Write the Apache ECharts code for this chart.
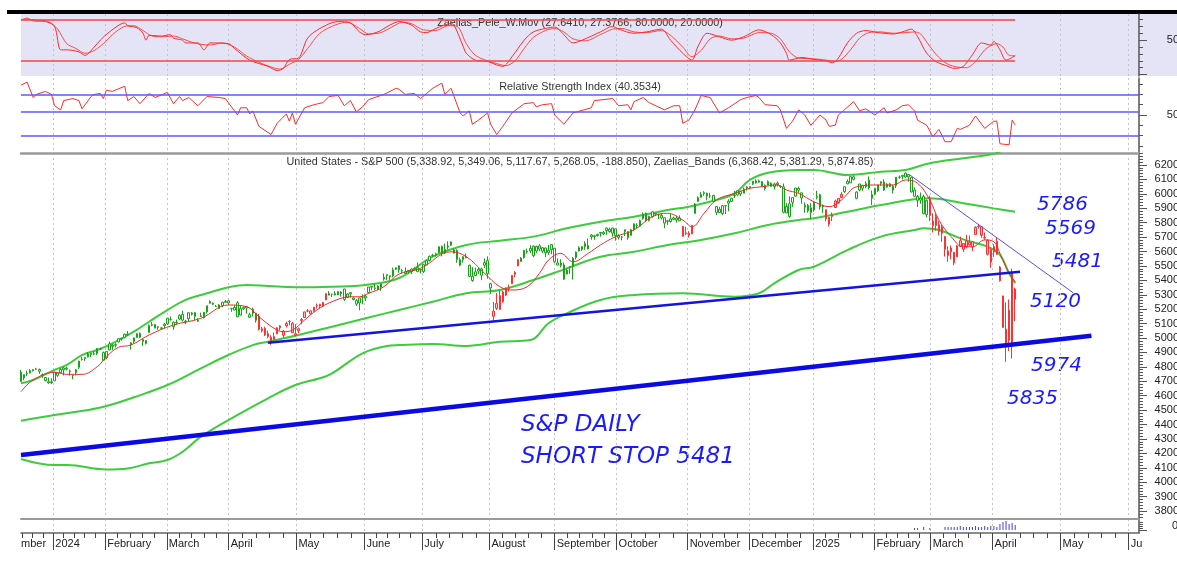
<!DOCTYPE html>
<html>
<head>
<meta charset="utf-8">
<script src="https://cdn.jsdelivr.net/npm/echarts@6/dist/echarts.min.js"></script>
<style>
  html, body { margin: 0; padding: 0; background: #fff; }
  #chart { width: 1177px; height: 567px; }
</style>
</head>
<body>
<div id="chart"></div>
<script>
// S&P 500 daily, x = trading day index (0 = 20 Dec 2023), rows are [open, close, low, high]
const dec23 = [[4764,4698,4698,4779],[4724,4746,4708,4748],[4753,4755,4737,4773],[4758,4775,4755,4784],[4773,4781,4768,4785],[4786,4783,4780,4793],[4782,4770,4751,4788]];
const jan24 = [[4745,4743,4724,4755],[4726,4705,4699,4730],[4697,4689,4683,4726],[4690,4697,4682,4721],[4703,4764,4703,4764],[4741,4757,4730,4765],[4759,4783,4757,4791],[4792,4780,4740,4799],[4791,4784,4775,4802],[4772,4766,4739,4782],[4739,4739,4714,4744],[4760,4780,4740,4785],[4797,4840,4785,4842],[4853,4850,4844,4868],[4856,4865,4842,4866],[4889,4869,4866,4903],[4886,4894,4867,4898],[4888,4891,4881,4907],[4893,4928,4882,4929],[4925,4925,4917,4932],[4899,4846,4845,4906]];
const feb24 = [[4862,4906,4853,4907],[4917,4959,4916,4975],[4950,4942,4918,4958],[4950,4954,4935,4964],[4973,4995,4970,4999],[4995,4998,4982,5001],[5005,5027,4997,5030],[5026,5022,5016,5048],[4967,4953,4920,4971],[4976,5001,4963,5002],[5004,5030,5002,5033],[5032,5006,4999,5039],[4989,4976,4946,4994],[4963,4983,4955,4984],[5038,5087,5038,5094],[5093,5089,5081,5111],[5094,5070,5068,5098],[5074,5078,5057,5081],[5067,5070,5057,5077],[5085,5096,5068,5105]];
const mar24 = [[5098,5137,5091,5140],[5130,5131,5120,5149],[5110,5079,5056,5114],[5109,5105,5092,5128],[5132,5157,5124,5165],[5164,5124,5114,5189],[5112,5117,5097,5125],[5134,5175,5114,5179],[5174,5165,5156,5180],[5176,5150,5124,5179],[5124,5117,5111,5137],[5154,5149,5146,5176],[5140,5179,5137,5180],[5181,5224,5170,5224],[5254,5241,5237,5262],[5242,5234,5228,5246],[5219,5218,5216,5229],[5229,5204,5203,5235],[5226,5248,5213,5249],[5248,5254,5247,5264]];
const apr24 = [[5258,5243,5229,5264],[5204,5205,5182,5209],[5194,5211,5193,5228],[5244,5147,5146,5256],[5159,5204,5157,5222],[5211,5202,5195,5219],[5217,5209,5168,5220],[5144,5161,5138,5175],[5172,5199,5149,5211],[5172,5123,5107,5175],[5149,5061,5052,5168],[5064,5051,5039,5077],[5068,5022,5014,5078],[5031,5011,4999,5052],[5005,4967,4953,5019],[4988,5010,4987,5038],[5029,5071,5027,5076],[5084,5071,5052,5089],[5019,5048,5002,5057],[5084,5100,5073,5114],[5115,5116,5088,5124],[5103,5036,5035,5110]];
const may24 = [[5029,5018,5011,5096],[5050,5064,5033,5073],[5122,5128,5096,5139],[5142,5181,5142,5181],[5188,5187,5179,5200],[5168,5188,5163,5191],[5189,5214,5182,5215],[5225,5223,5204,5239],[5233,5221,5206,5237],[5221,5247,5219,5250],[5264,5308,5263,5311],[5310,5297,5296,5325],[5303,5303,5284,5306],[5298,5308,5297,5325],[5299,5321,5298,5324],[5319,5307,5287,5325],[5340,5268,5257,5341],[5281,5305,5279,5311],[5315,5306,5280,5316],[5278,5267,5262,5283],[5259,5235,5222,5270],[5244,5278,5192,5280]];
const jun24 = [[5283,5283,5234,5302],[5278,5291,5257,5298],[5315,5354,5305,5354],[5357,5353,5331,5362],[5343,5347,5331,5376],[5341,5361,5331,5365],[5353,5375,5327,5376],[5409,5421,5398,5448],[5441,5434,5403,5441],[5424,5432,5404,5432],[5431,5473,5420,5488],[5476,5487,5471,5490],[5500,5473,5452,5505],[5466,5465,5447,5479],[5459,5448,5447,5490],[5460,5469,5446,5472],[5460,5478,5444,5483],[5473,5483,5470,5490],[5488,5460,5460,5524]];
const jul24 = [[5471,5475,5448,5480],[5461,5509,5451,5510],[5507,5537,5507,5539],[5537,5567,5531,5571],[5572,5572,5563,5583],[5584,5577,5564,5591],[5591,5633,5588,5635],[5635,5585,5566,5642],[5590,5615,5583,5655],[5638,5631,5613,5670],[5644,5667,5639,5669],[5610,5589,5586,5622],[5608,5545,5522,5615],[5543,5505,5498,5557],[5544,5564,5523,5566],[5565,5556,5553,5586],[5505,5427,5425,5508],[5428,5399,5390,5492],[5433,5459,5432,5488],[5477,5464,5445,5487],[5479,5436,5401,5489],[5505,5522,5485,5551]];
const aug24 = [[5537,5446,5412,5566],[5376,5347,5306,5383],[5151,5186,5120,5250],[5206,5240,5194,5312],[5294,5199,5195,5330],[5252,5319,5245,5328],[5298,5344,5291,5351],[5351,5344,5322,5371],[5376,5434,5376,5436],[5442,5455,5422,5464],[5500,5543,5498,5546],[5530,5554,5530,5562],[5557,5608,5551,5609],[5602,5597,5585,5620],[5604,5621,5590,5644],[5637,5571,5560,5643],[5603,5635,5590,5641],[5639,5617,5602,5651],[5602,5626,5590,5631],[5624,5592,5561,5627],[5608,5592,5576,5646],[5612,5648,5581,5651]];
const sep24 = [[5623,5529,5521,5623],[5506,5520,5504,5552],[5520,5503,5490,5546],[5507,5408,5403,5523],[5443,5471,5443,5484],[5490,5496,5445,5497],[5496,5554,5406,5561],[5557,5596,5545,5600],[5603,5626,5601,5636],[5615,5633,5604,5637],[5655,5634,5612,5671],[5641,5618,5615,5690],[5702,5714,5682,5721],[5709,5703,5681,5716],[5711,5719,5703,5723],[5727,5732,5703,5735],[5733,5722,5713,5741],[5762,5745,5716,5767],[5755,5738,5731,5765],[5727,5762,5703,5765]];
const oct24 = [[5757,5709,5675,5757],[5698,5709,5683,5720],[5698,5700,5677,5708],[5738,5751,5707,5752],[5738,5696,5681,5739],[5712,5751,5712,5757],[5751,5792,5745,5796],[5778,5780,5762,5796],[5775,5815,5775,5822],[5830,5859,5820,5871],[5866,5815,5805,5870],[5816,5843,5808,5847],[5875,5841,5836,5878],[5859,5865,5846,5866],[5857,5853,5824,5863],[5833,5851,5822,5864],[5834,5797,5762,5834],[5813,5809,5784,5817],[5826,5808,5800,5862],[5833,5823,5819,5842],[5819,5832,5800,5848],[5832,5813,5811,5851],[5775,5705,5703,5775]];
const nov24 = [[5724,5729,5713,5772],[5725,5712,5697,5741],[5722,5782,5722,5783],[5864,5929,5864,5936],[5947,5973,5945,5983],[5976,5996,5973,6012],[6008,6001,5986,6018],[6003,5984,5955,6009],[5985,5985,5970,6008],[5989,5949,5942,5993],[5912,5871,5853,5916],[5870,5893,5866,5909],[5863,5917,5853,5922],[5917,5917,5860,5920],[5935,5949,5879,5963],[5947,5969,5946,5972],[5992,5987,5971,6020],[5992,6021,5987,6025],[6015,5999,5985,6021],[6004,6032,6004,6044]];
const dec24 = [[6040,6047,6022,6053],[6042,6050,6033,6052],[6069,6087,6061,6089],[6089,6075,6071,6100],[6081,6090,6077,6099],[6084,6053,6049,6089],[6058,6035,6024,6065],[6060,6085,6060,6093],[6074,6052,6049,6079],[6068,6051,6030,6078],[6064,6074,6050,6085],[6052,6050,6040,6058],[6048,5872,5865,6071],[5913,5867,5867,5935],[5843,5931,5833,5982],[5941,5974,5910,5978],[5984,6040,5981,6040],[6025,6037,6007,6050],[6007,5971,5932,6007],[5921,5907,5869,5941],[5920,5882,5869,5930]];
const jan25 = [[5903,5869,5824,5935],[5888,5942,5876,5950],[5982,5975,5961,6021],[5994,5909,5890,6000],[5910,5918,5868,5927],[5890,5827,5809,5890],[5789,5837,5773,5837],[5855,5843,5811,5871],[5905,5950,5905,5960],[5968,5937,5932,5965],[5973,5997,5972,6011],[6015,6049,6006,6051],[6069,6086,6067,6100],[6076,6119,6075,6119],[6118,6101,6093,6128],[5969,6012,5962,6018],[6026,6068,6017,6069],[6058,6039,6020,6063],[6050,6071,6038,6087],[6096,6041,6030,6120]];
const feb25 = [[5969,5994,5923,6023],[5998,6038,5990,6042],[6021,6061,6013,6062],[6072,6084,6055,6085],[6083,6026,6020,6101],[6046,6066,6044,6074],[6050,6069,6048,6076],[6025,6052,6003,6064],[6057,6115,6040,6116],[6115,6115,6104,6127],[6121,6129,6100,6129],[6117,6144,6111,6147],[6134,6118,6084,6134],[6114,6013,6009,6115],[6026,5983,5978,6044],[5983,5955,5909,5992],[5970,5956,5932,6009],[5981,5862,5858,5994],[5856,5955,5837,5959]];
const mar25 = [[5969,5850,5810,5987],[5811,5779,5732,5865],[5781,5843,5744,5860],[5785,5739,5712,5812],[5726,5770,5667,5783],[5705,5615,5565,5705],[5603,5572,5529,5636],[5624,5599,5546,5642],[5594,5522,5505,5597],[5563,5639,5563,5645],[5635,5675,5631,5703],[5655,5615,5597,5655],[5632,5675,5622,5716],[5646,5663,5640,5711],[5630,5668,5603,5670],[5718,5768,5718,5775],[5771,5776,5759,5786],[5772,5712,5695,5772],[5696,5693,5681,5732],[5679,5581,5572,5685],[5527,5612,5488,5623]];
const apr25 = [[5597,5633,5562,5651],[5580,5671,5578,5695],[5492,5397,5391,5500],[5292,5074,5069,5293],[4953,5062,4835,5247],[5193,4983,4910,5267],[4967,5457,4857,5481],[5339,5268,5118,5349]];

// day ranges where the candles are painted red
const redSpans = [[78, 100], [155, 163], [217, 220], [264, 269], [298, 326]];

// Zaelias bands and the red moving average, read as [day, price]
const upperBand = [[0,4686],[4,4709],[11,4779],[15,4813],[20,4882],[25,4917],[30,4963],[37,5044],[42,5113],[48,5194],[54,5264],[61,5310],[68,5352],[74,5368],[81,5361],[90,5352],[102,5356],[113,5368],[124,5416],[135,5564],[146,5645],[157,5675],[168,5703],[179,5761],[190,5807],[201,5841],[212,5888],[219,5911],[228,5957],[234,6003],[239,6096],[245,6146],[255,6165],[260,6165],[271,6130],[282,6153],[290,6165],[298,6212],[309,6246],[317,6269],[321,6292],[326,6368]];
const midBand = [[0,4426],[11,4466],[22,4501],[28,4528],[37,4589],[48,4674],[59,4790],[68,4882],[76,4951],[81,4974],[91,5021],[102,5078],[113,5137],[124,5194],[135,5252],[146,5310],[157,5333],[168,5402],[179,5483],[190,5564],[201,5598],[212,5645],[223,5680],[234,5726],[245,5784],[255,5818],[260,5830],[271,5876],[282,5922],[293,5962],[298,5969],[309,5934],[319,5899],[326,5875]];
const lowerBand = [[0,4161],[11,4119],[15,4119],[28,4089],[35,4096],[42,4131],[48,4154],[53,4211],[59,4316],[68,4431],[81,4582],[90,4674],[98,4721],[102,4755],[112,4894],[120,4945],[124,4951],[135,4958],[146,4945],[157,4974],[167,4986],[173,5102],[179,5171],[190,5264],[201,5298],[217,5310],[234,5286],[242,5310],[247,5379],[255,5472],[260,5494],[271,5610],[282,5703],[293,5749],[296,5761],[301,5749],[309,5684],[317,5633],[321,5576],[324,5449],[326,5381]];
const maLine = [[0,4628],[4,4709],[11,4762],[15,4748],[20,4748],[25,4801],[28,4870],[32,4936],[36,4951],[42,5021],[50,5090],[59,5137],[68,5229],[74,5217],[78,5148],[83,5067],[86,5044],[89,5055],[93,5125],[97,5194],[102,5252],[108,5286],[111,5286],[114,5310],[119,5356],[124,5444],[131,5483],[141,5598],[146,5564],[152,5449],[157,5356],[161,5333],[166,5356],[170,5449],[173,5541],[177,5587],[181,5529],[186,5587],[190,5645],[195,5703],[201,5749],[207,5841],[212,5865],[217,5818],[220,5772],[224,5865],[228,5957],[234,6003],[239,6038],[243,6049],[248,6061],[251,6026],[255,6003],[260,5945],[265,5911],[269,5957],[274,6049],[281,6061],[286,6061],[290,6096],[294,6073],[298,5957],[301,5818],[305,5703],[309,5633],[312,5633],[316,5680],[319,5668],[321,5587],[324,5449],[326,5390]];

// hand drawn trend lines, [day, price] end points
const supportLine = [[81, 4967], [327.6, 5460]];
const baseLine = [[0, 4189], [351, 5016]];
const downLine = [[291.5, 6130], [345, 5314]];

// Zaelias_Pele_W.Mov, fast and slow lines
const peleFast = [[0,79],[2,82],[4,78],[8,77],[11,70],[13,36],[15,36],[19,33],[21,28],[24,40],[26,50],[29,62],[34,75],[35,71],[38,68],[40,60],[41,50],[42,57],[46,56],[49,58],[50,53],[53,50],[54,46],[58,46],[60,36],[62,46],[68,45],[70,38],[75,21],[81,12],[84,6],[86,9],[88,22],[91,24],[94,53],[98,67],[104,77],[108,75],[111,62],[113,58],[117,62],[121,72],[124,77],[128,72],[131,62],[133,61],[136,67],[141,74],[142,72],[145,41],[146,31],[149,21],[153,19],[156,14],[158,12],[161,26],[165,50],[168,62],[172,67],[175,69],[178,58],[181,46],[184,50],[190,62],[194,70],[196,66],[201,60],[205,62],[210,66],[213,50],[217,31],[220,21],[222,41],[225,60],[229,55],[233,50],[237,55],[242,65],[246,58],[249,46],[251,31],[252,21],[256,25],[260,22],[264,20],[266,17],[268,24],[271,46],[274,60],[277,64],[281,61],[286,59],[289,62],[292,66],[294,55],[297,31],[300,19],[304,12],[306,9],[309,12],[312,29],[315,46],[318,43],[319,48],[321,36],[323,21],[326,27.64]];
const peleSlow = [[0,80],[3,80],[6,79],[9,77],[12,66],[15,45],[18,38],[21,31],[24,35],[27,45],[30,58],[34,70],[37,71],[40,64],[43,56],[47,55],[50,56],[53,52],[56,47],[59,44],[62,43],[66,46],[70,40],[74,27],[78,18],[82,11],[85,8],[88,15],[91,22],[94,38],[98,60],[103,72],[107,76],[111,67],[114,59],[118,61],[122,70],[125,76],[128,74],[132,65],[136,64],[140,71],[143,70],[146,45],[149,28],[153,20],[156,16],[159,13],[162,20],[165,38],[168,54],[172,64],[175,67],[178,62],[181,52],[185,49],[190,58],[194,66],[197,67],[201,62],[205,61],[210,64],[213,57],[217,40],[220,26],[223,35],[226,52],[229,56],[233,52],[237,53],[242,61],[246,60],[249,52],[252,33],[255,24],[260,23],[264,21],[267,19],[269,22],[272,36],[275,53],[278,61],[282,62],[286,60],[290,61],[293,62],[295,59],[298,41],[301,25],[304,15],[307,11],[310,10],[313,19],[316,36],[318,42],[320,45],[322,40],[324,28],[326,27.38]];
const peleLevels = [80, 20];

// Relative Strength Index
const rsi = [[0,79],[2,82],[4,67],[5,70],[8,73],[10,70],[11,59],[13,55],[14,64],[17,66],[19,64],[20,56],[23,68],[24,70],[26,71],[27,66],[28,74],[30,73],[34,78],[35,64],[37,68],[39,61],[42,71],[44,67],[48,72],[50,61],[52,68],[53,64],[55,67],[58,59],[61,68],[65,67],[67,66],[71,50],[72,57],[74,57],[75,51],[76,54],[78,39],[82,31],[84,42],[87,51],[88,44],[89,52],[90,41],[93,57],[96,60],[99,62],[101,68],[104,69],[106,59],[108,64],[110,53],[112,58],[114,65],[119,70],[123,76],[124,75],[126,70],[129,71],[131,66],[135,76],[138,81],[139,70],[141,76],[144,52],[145,49],[147,54],[148,41],[150,45],[153,52],[154,41],[156,31],[158,39],[161,52],[165,61],[168,62],[169,58],[171,60],[174,61],[175,50],[178,41],[181,52],[187,57],[188,64],[194,66],[196,59],[199,60],[200,55],[201,63],[204,67],[206,62],[211,55],[214,59],[216,59],[217,42],[219,45],[221,55],[223,69],[226,67],[229,52],[232,57],[236,65],[238,67],[241,69],[242,67],[244,60],[248,59],[249,55],[251,37],[253,44],[255,55],[257,50],[259,40],[262,50],[264,45],[265,39],[267,40],[268,50],[270,55],[273,63],[275,54],[277,56],[280,50],[283,57],[284,52],[287,55],[289,59],[291,60],[293,54],[294,45],[297,40],[299,29],[301,36],[303,24],[305,24],[307,37],[308,36],[311,40],[313,49],[316,37],[319,44],[320,44],[321,22],[324,21],[325,45],[326,40.35]];
const rsiLevels = [70, 53, 30];

// small volume marks at the foot of the chart
const volume = [[293,2],[294,2],[296,3],[298,2],[303,3],[304,3],[305,3],[306,3],[307,3],[308,4],[309,3],[310,3],[311,3],[312,3],[313,4],[314,3],[315,3],[316,4],[317,3],[318,4],[319,4],[320,3],[321,6],[322,8],[323,9],[324,6],[325,7],[326,5]];

// month boundaries (trading day position) and their labels
const monthTicks = [10.6, 27.6, 47.8, 68.1, 90.3, 112.6, 131.6, 153.6, 175.0, 195.3, 218.6, 238.8, 259.8, 279.9, 298.3, 318.6, 340.9, 363.2];
const monthLabels = ['2024', 'February', 'March', 'April', 'May', 'June', 'July', 'August', 'September', 'October', 'November', 'December', '2025', 'February', 'March', 'April', 'May', 'Ju'];

const priceTicks = [];
for (let p = 3800; p <= 6200; p += 100) priceTicks.push(p);
const priceMinor = [];
for (let p = 3760; p <= 6280; p += 20) if (p % 100) priceMinor.push(p);

const weekTicks = [7.2, 3.8, 0.4];
for (let k = 0; k < monthTicks.length - 1; k++) {
    let a = monthTicks[k], b = monthTicks[k + 1];
    for (let j = 1; j < 5; j++) weekTicks.push(+(a + (b - a) * j / 5).toFixed(2));
}

const XMAX = 366.6;
const FONT = 'Liberation Sans';
const GREEN = '#17a317';

const days = [].concat(dec23, jan24, feb24, mar24, apr24, may24, jun24, jul24, aug24, sep24, oct24, nov24, dec24, jan25, feb25, mar25, apr25);

const candles = days.map((d, i) => {
    let red = redSpans.some(s => i >= s[0] && i <= s[1]);
    let edge = red ? '#ff3030' : GREEN;
    let solid = red ? '#ff2020' : '#0c7d0c';
    return {
        value: [i, d[0], d[1], d[2], d[3]],
        itemStyle: {
            color: red ? '#ffc4c4' : '#ffffff',
            borderColor: edge,
            color0: solid,
            borderColor0: solid
        }
    };
});

function labelFor(v) {
    let k = monthTicks.findIndex(t => Math.abs(t - v) < 0.05);
    return k < 0 ? '' : monthLabels[k];
}

function hiddenX(grid, withSplit) {
    return {
        type: 'value', gridIndex: grid, min: 0, max: XMAX,
        axisLine: { show: false, onZero: false },
        axisTick: { show: false, customValues: monthTicks },
        axisLabel: { show: false },
        splitLine: { show: withSplit, lineStyle: { color: '#c4c4c4', type: [2, 3], width: 1 } }
    };
}

function sideY(grid, min, max, major, minor, labels) {
    return [{
        type: 'value', gridIndex: grid, position: 'right', min: min, max: max,
        axisLine: { show: true, onZero: false, lineStyle: { color: '#555', width: 1.5 } },
        axisTick: { show: true, length: 8, customValues: major, lineStyle: { color: '#555' } },
        axisLabel: { show: true, customValues: labels, formatter: v => String(v), margin: 40, align: 'right', fontFamily: FONT, fontSize: 11, color: '#222' },
        splitLine: { show: false }
    }, {
        type: 'value', gridIndex: grid, position: 'right', min: min, max: max,
        axisLine: { show: false, onZero: false },
        axisTick: { show: true, length: 4, customValues: minor, lineStyle: { color: '#555' } },
        axisLabel: { show: false },
        splitLine: { show: false }
    }];
}

function panel(top, height, extra) {
    return Object.assign({ left: 21, right: 38, top: top, height: height, outerBoundsMode: 'none', containLabel: false }, extra || {});
}

const chart = echarts.init(document.getElementById('chart'), null, { renderer: 'canvas' });

const option = {
    animation: false,
    backgroundColor: '#ffffff',
    grid: [
        panel(14, 62, { show: true, backgroundColor: '#e4e4f6', borderWidth: 0 }),
        panel(78, 74),
        panel(153, 366),
        panel(519, 14)
    ],
    xAxis: [
        hiddenX(0, true),
        hiddenX(1, true),
        Object.assign(hiddenX(2, true), { position: 'top', axisLine: { show: true, onZero: false, lineStyle: { color: '#9a9a9a', width: 2.5 } } }),
        Object.assign(hiddenX(3, true), { position: 'top', axisLine: { show: true, onZero: false, lineStyle: { color: '#9a9a9a', width: 2 } } }),
        {
            type: 'value', gridIndex: 3, min: 0, max: XMAX, position: 'bottom',
            axisLine: { show: true, onZero: false, lineStyle: { color: '#666', width: 1.5 } },
            axisTick: { show: true, length: 17, customValues: monthTicks, lineStyle: { color: '#444' } },
            axisLabel: { show: true, customValues: monthTicks, formatter: labelFor, align: 'left', margin: 5, padding: [0, 0, 0, 2], fontFamily: FONT, fontSize: 11, color: '#222' },
            splitLine: { show: false }
        },
        {
            type: 'value', gridIndex: 3, min: 0, max: XMAX, position: 'bottom',
            axisLine: { show: false, onZero: false },
            axisTick: { show: true, length: 5, customValues: weekTicks, lineStyle: { color: '#444' } },
            axisLabel: { show: false },
            splitLine: { show: false }
        }
    ],
    yAxis: [].concat(
        sideY(0, -2, 88, [0, 50], [10, 20, 30, 40, 60, 70, 80], [50]),
        sideY(1, 14, 86, [50], [20, 30, 40, 60, 70, 80], [50]),
        sideY(2, 3745, 6283, priceTicks, priceMinor, priceTicks),
        sideY(3, -3, 11, [0], [2, 4, 6, 8], [])
    ),
    series: [
        {
            type: 'line', xAxisIndex: 0, yAxisIndex: 0, data: peleSlow, showSymbol: false, smooth: 0.3,
            lineStyle: { color: '#ff4a4a', width: 1 }, z: 3
        },
        {
            type: 'line', xAxisIndex: 0, yAxisIndex: 0, data: peleFast, showSymbol: false, smooth: 0.3,
            lineStyle: { color: '#ff2a2a', width: 1 }, z: 3,
            markLine: {
                silent: true, symbol: 'none', label: { show: false },
                lineStyle: { color: '#f04848', type: 'solid', width: 1.5 },
                data: peleLevels.map(v => [{ coord: [0, v] }, { coord: [days.length - 1, v] }])
            }
        },
        {
            type: 'line', xAxisIndex: 1, yAxisIndex: 2, data: rsi, showSymbol: false,
            lineStyle: { color: '#ff2a2a', width: 1 }, z: 3,
            markLine: {
                silent: true, symbol: 'none', label: { show: false },
                lineStyle: { color: '#5a5aff', type: 'solid', width: 1.5 },
                data: rsiLevels.map(v => ({ yAxis: v }))
            }
        },
        {
            type: 'line', xAxisIndex: 2, yAxisIndex: 4, data: upperBand, showSymbol: false, smooth: 0.4,
            lineStyle: { color: '#3ccc3c', width: 2 }, z: 2
        },
        {
            type: 'line', xAxisIndex: 2, yAxisIndex: 4, data: midBand, showSymbol: false, smooth: 0.4,
            lineStyle: { color: '#3ccc3c', width: 2 }, z: 2
        },
        {
            type: 'line', xAxisIndex: 2, yAxisIndex: 4, data: lowerBand, showSymbol: false, smooth: 0.4,
            lineStyle: { color: '#3ccc3c', width: 2 }, z: 2
        },
        {
            type: 'line', xAxisIndex: 2, yAxisIndex: 4, data: maLine, showSymbol: false, smooth: 0.4,
            lineStyle: { color: '#ee2a2a', width: 1 }, z: 4
        },
        {
            type: 'candlestick', xAxisIndex: 2, yAxisIndex: 4, data: candles, barWidth: 2, z: 3
        },
        {
            type: 'line', xAxisIndex: 2, yAxisIndex: 4, data: baseLine, showSymbol: false,
            lineStyle: { color: '#0a0ae6', width: 4.5 }, z: 5
        },
        {
            type: 'line', xAxisIndex: 2, yAxisIndex: 4, data: supportLine, showSymbol: false,
            lineStyle: { color: '#1414e0', width: 2.5 }, z: 5
        },
        {
            type: 'line', xAxisIndex: 2, yAxisIndex: 4, data: downLine, showSymbol: false,
            lineStyle: { color: '#5050f5', width: 1 }, z: 5
        },
        {
            type: 'bar', xAxisIndex: 4, yAxisIndex: 6, data: volume, barWidth: 1,
            itemStyle: { color: '#4040e8' }
        }
    ],
    graphic: [
        { type: 'rect', shape: { x: 7, y: 10, width: 1170, height: 4 }, style: { fill: '#000' } },
        { type: 'rect', shape: { x: 1140, y: 14, width: 37, height: 62 }, style: { fill: '#e4e4f6' }, z: -1 },
        { type: 'text', x: 580, y: 23, style: { text: 'Zaelias_Pele_W.Mov (27.6410, 27.3766, 80.0000, 20.0000)', font: '10.8px "Liberation Sans"', fill: '#333', textAlign: 'center', textVerticalAlign: 'middle' } },
        { type: 'text', x: 580, y: 87, style: { text: 'Relative Strength Index (40.3534)', font: '10.8px "Liberation Sans"', fill: '#333', textAlign: 'center', textVerticalAlign: 'middle' } },
        { type: 'text', x: 580, y: 162, style: { text: 'United States - S&P 500 (5,338.92, 5,349.06, 5,117.67, 5,268.05, -188.850), Zaelias_Bands (6,368.42, 5,381.29, 5,874.85)', font: '10.8px "Liberation Sans"', fill: '#333', textAlign: 'center', textVerticalAlign: 'middle' } },
        { type: 'text', x: 21, y: 544, style: { text: 'mber', font: '11px "Liberation Sans"', fill: '#222', textVerticalAlign: 'middle' } },
        { type: 'text', x: 1178, y: 526, style: { text: '0', font: '11px "Liberation Sans"', fill: '#222', textAlign: 'right', textVerticalAlign: 'middle' } },
        { type: 'text', x: 1037, y: 205, style: { text: '5786', font: 'italic 20px "DejaVu Sans"', fill: '#1a1aff', textVerticalAlign: 'middle' } },
        { type: 'text', x: 1045, y: 229, style: { text: '5569', font: 'italic 20px "DejaVu Sans"', fill: '#1a1aff', textVerticalAlign: 'middle' } },
        { type: 'text', x: 1052, y: 262, style: { text: '5481', font: 'italic 20px "DejaVu Sans"', fill: '#1a1aff', textVerticalAlign: 'middle' } },
        { type: 'text', x: 1030, y: 302, style: { text: '5120', font: 'italic 20px "DejaVu Sans"', fill: '#1a1aff', textVerticalAlign: 'middle' } },
        { type: 'text', x: 1031, y: 366, style: { text: '5974', font: 'italic 20px "DejaVu Sans"', fill: '#1a1aff', textVerticalAlign: 'middle' } },
        { type: 'text', x: 1007, y: 399, style: { text: '5835', font: 'italic 20px "DejaVu Sans"', fill: '#1a1aff', textVerticalAlign: 'middle' } },
        { type: 'text', x: 521, y: 425, style: { text: 'S&P DAILY', font: 'italic 23px "DejaVu Sans"', fill: '#1a1aff', textVerticalAlign: 'middle' } },
        { type: 'text', x: 521, y: 457, style: { text: 'SHORT STOP 5481', font: 'italic 23px "DejaVu Sans"', fill: '#1a1aff', textVerticalAlign: 'middle' } }
    ]
};

chart.setOption(option);
</script>
</body>
</html>
